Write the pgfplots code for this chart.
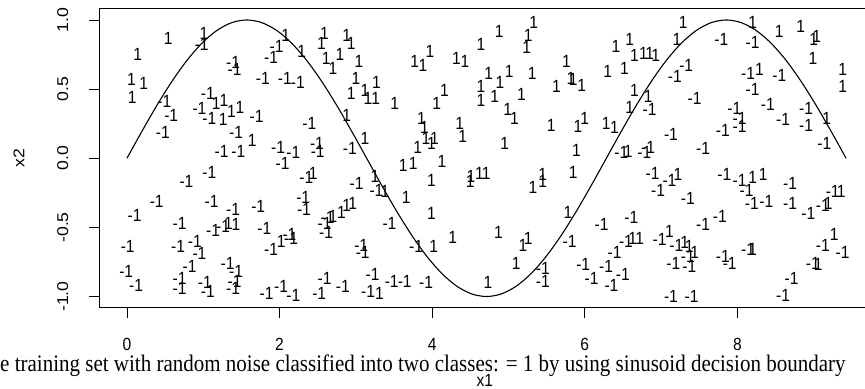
\documentclass[border=0pt]{standalone}
\usepackage{pgfplots}
\pgfplotsset{compat=1.18}
\usepackage{fontspec}
\setmainfont{Liberation Sans}
\newfontfamily\seriffont{Liberation Serif}
\usepackage{graphicx}
\newcommand\st[1]{\scalebox{1}[1.13]{#1}}
\newcommand\sr[1]{\rotatebox{90}{\scalebox{1}[1.0]{#1}}}
\newcommand\lblfont{\fontsize{15.6}{18}\selectfont}

\begin{document}
\begin{tikzpicture}
\begin{axis}[
  at={(0,0)}, anchor=south west,
  scale only axis, width=775.2pt, height=298.7pt,
  xmin=-0.36, xmax=9.80, ymin=-1.08, ymax=1.08,
  axis line style={line width=0.9pt, black},
  tick align=outside, major tick length=10.7pt,
  xtick pos=lower, ytick pos=lower,
  tick style={line width=0.9pt, black},
  xtick={0,2,4,6,8},
  xticklabels={\st{0},\st{2},\st{4},\st{6},\st{8}},
  ytick={-1,-0.5,0,0.5,1},
  yticklabels={\sr{\scalebox{1.13}[1]{-1.0}},\sr{\scalebox{1.13}[1]{-0.5}},\sr{\scalebox{1.13}[1]{0.0}},\sr{\scalebox{1.13}[1]{0.5}},\sr{\scalebox{1.13}[1]{1.0}}},
  font=\lblfont,
  xticklabel style={anchor=center, yshift=-26.5pt},
  yticklabel style={anchor=center, xshift=-26pt},
  xlabel={\st{x1}},
  xlabel style={at={(axis description cs:0.497,-0.2444)}, anchor=center},
  ylabel={\rotatebox{90}{\scalebox{1.13}[1]{x2}}},
  ylabel style={at={(axis description cs:-0.1038,0.501)}, anchor=center, rotate=-90},
  text mark as node=true,
]
\addplot[black, line width=1.1pt, smooth] table {
x y
0 0
0.1963 0.1951
0.3927 0.3827
0.5890 0.5556
0.7854 0.7071
0.9817 0.8315
1.1781 0.9239
1.3744 0.9808
1.5708 1
1.7671 0.9808
1.9635 0.9239
2.1598 0.8315
2.3562 0.7071
2.5525 0.5556
2.7489 0.3827
2.9452 0.1951
3.1416 0
3.3379 -0.1951
3.5343 -0.3827
3.7306 -0.5556
3.9270 -0.7071
4.1233 -0.8315
4.3197 -0.9239
4.5160 -0.9808
4.7124 -1
4.9087 -0.9808
5.1051 -0.9239
5.3014 -0.8315
5.4978 -0.7071
5.6941 -0.5556
5.8905 -0.3827
6.0868 -0.1951
6.2832 0
6.4795 0.1951
6.6759 0.3827
6.8722 0.5556
7.0686 0.7071
7.2649 0.8315
7.4613 0.9239
7.6576 0.9808
7.8540 1
8.0503 0.9808
8.2467 0.9239
8.4430 0.8315
8.6394 0.7071
8.8357 0.5556
9.0321 0.3827
9.2284 0.1951
9.4248 0
};
\addplot[only marks, mark=text, text mark={\st{1}}, text mark style={anchor=center, inner sep=0pt, font=\lblfont, text=black}] table {
x y
0.54 0.87
1.01 0.90
0.14 0.75
0.06 0.57
0.22 0.54
0.07 0.44
2.08 0.89
1.17 0.40
1.27 0.42
1.26 0.28
1.37 0.34
1.48 0.37
1.64 0.13
2.59 0.90
2.55 0.83
2.61 0.72
2.29 0.77
2.88 0.89
2.94 0.83
2.79 0.75
2.70 0.65
3.04 0.70
3.00 0.58
2.94 0.47
3.12 0.49
3.16 0.43
3.27 0.55
3.26 0.43
3.51 0.40
2.88 0.31
3.12 0.14
3.77 0.70
3.88 0.67
3.97 0.77
4.32 0.72
4.43 0.70
4.64 0.82
4.88 0.92
5.26 0.89
5.33 0.98
5.24 0.80
4.74 0.61
4.89 0.55
5.01 0.63
4.64 0.52
4.64 0.42
4.82 0.45
5.17 0.46
5.31 0.61
5.63 0.52
5.76 0.70
5.82 0.58
4.16 0.49
4.06 0.40
4.99 0.35
5.08 0.29
3.86 0.29
3.90 0.22
4.36 0.25
4.40 0.16
4.95 0.11
5.56 0.24
5.91 0.23
3.81 0.08
3.92 0.14
3.99 0.11
4.03 0.14
5.89 0.06
7.29 0.98
7.21 0.86
8.20 0.98
8.55 0.92
8.83 0.95
9.04 0.88
9.00 0.86
8.99 0.72
9.38 0.64
9.38 0.52
6.41 0.81
6.59 0.86
6.65 0.74
6.77 0.76
6.85 0.76
6.93 0.74
6.30 0.63
6.52 0.65
8.29 0.64
5.85 0.57
5.96 0.53
6.65 0.49
6.83 0.45
6.59 0.37
9.17 0.29
6.00 0.29
6.28 0.25
6.39 0.22
6.57 0.05
1.33 -0.47
1.43 -0.48
2.02 -0.60
3.62 -0.05
3.75 -0.04
4.13 -0.02
3.99 -0.16
4.51 -0.13
4.62 -0.11
4.71 -0.11
4.50 -0.17
5.32 -0.21
5.45 -0.17
5.45 -0.12
5.85 -0.10
2.44 -0.11
3.25 -0.13
3.38 -0.24
3.66 -0.28
2.70 -0.42
2.81 -0.39
2.88 -0.34
2.96 -0.33
3.99 -0.40
4.02 -0.64
4.27 -0.57
4.87 -0.54
5.19 -0.63
5.26 -0.58
5.10 -0.76
4.73 -0.90
3.31 -0.98
5.78 -0.39
7.22 -0.12
8.20 -0.14
8.34 -0.12
9.19 -0.33
9.36 -0.24
6.63 -0.58
6.72 -0.58
7.11 -0.53
7.31 -0.61
7.37 -0.64
7.44 -0.68
9.27 -0.55
9.06 -0.77
8.20 -0.66
};
\addplot[only marks, mark=text, text mark={\st{-1}}, text mark style={anchor=center, inner sep=0pt, font=\lblfont, text=black}] table {
x y
0.98 0.82
0.49 0.41
0.58 0.31
0.47 0.19
1.39 0.69
1.41 0.64
1.78 0.58
2.07 0.58
1.96 0.81
1.89 0.73
1.06 0.47
0.95 0.36
1.08 0.29
1.70 0.30
1.43 0.19
1.24 0.05
1.46 0.05
1.98 0.08
2.24 0.55
2.39 0.25
2.92 0.07
2.18 0.04
2.49 0.11
2.50 0.05
7.79 0.86
8.20 0.84
7.33 0.67
7.18 0.59
8.14 0.61
8.55 0.60
8.20 0.50
6.85 0.35
7.44 0.43
7.96 0.36
8.03 0.29
7.81 0.20
8.03 0.23
8.40 0.39
8.60 0.28
8.90 0.36
8.90 0.24
9.14 0.11
7.13 0.17
7.55 0.07
6.48 0.04
6.78 0.04
6.83 0.08
2.04 -0.04
1.08 -0.10
0.78 -0.17
0.39 -0.31
0.10 -0.41
1.11 -0.31
1.39 -0.37
1.72 -0.35
0.69 -0.47
1.13 -0.52
1.26 -0.49
1.80 -0.51
0.01 -0.64
0.67 -0.64
0.89 -0.60
0.95 -0.69
1.89 -0.66
2.15 -0.58
-0.01 -0.82
0.12 -0.92
0.82 -0.78
0.69 -0.87
0.69 -0.94
1.32 -0.76
1.43 -0.82
1.41 -0.89
1.39 -0.94
1.02 -0.90
1.06 -0.96
1.83 -0.98
2.02 -0.93
2.18 -0.99
2.35 -0.14
3.01 -0.18
3.27 -0.23
2.31 -0.28
2.32 -0.37
2.59 -0.47
2.63 -0.43
3.44 -0.47
2.13 -0.55
2.61 -0.54
3.07 -0.63
3.09 -0.68
3.79 -0.64
5.45 -0.80
5.45 -0.89
2.59 -0.87
2.52 -0.98
2.83 -0.93
3.22 -0.84
3.16 -0.96
3.47 -0.89
3.64 -0.89
3.92 -0.90
5.80 -0.60
6.89 -0.11
7.11 -0.16
6.96 -0.23
7.35 -0.29
7.83 -0.12
8.03 -0.16
8.12 -0.23
8.19 -0.33
8.38 -0.31
8.69 -0.18
8.69 -0.33
8.93 -0.40
9.12 -0.34
9.25 -0.24
6.22 -0.48
6.61 -0.43
7.55 -0.48
7.77 -0.42
6.39 -0.68
6.54 -0.60
6.98 -0.59
7.20 -0.63
7.35 -0.71
7.16 -0.76
7.37 -0.78
7.81 -0.71
7.90 -0.76
8.14 -0.66
5.98 -0.77
6.28 -0.78
6.09 -0.87
6.50 -0.84
6.35 -0.92
7.13 -1.00
7.40 -1.00
8.60 -0.99
8.71 -0.87
9.12 -0.63
9.38 -0.68
8.99 -0.76
};
\end{axis}
\node[anchor=base west, inner sep=0pt, font=\seriffont\fontsize{21}{24}\selectfont] at (-99.5pt,-64pt) {\st{e training set with random noise classified into two classes: = 1 by using sinusoid decision boundary}};
\pgfresetboundingbox
\path (-99.5pt,-81.3pt) rectangle (765.5pt,307.6pt);
\end{tikzpicture}
\end{document}
